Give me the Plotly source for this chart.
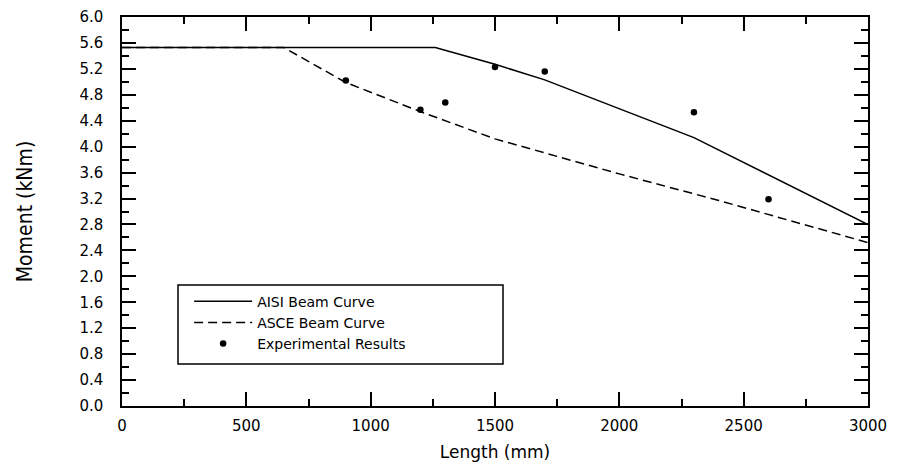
import plotly.graph_objects as go

# AISI beam curve (solid)
aisi_len = [0, 1260, 1500, 1700, 2300, 2600, 3000]
aisi_mom = [5.53, 5.53, 5.27, 5.03, 4.14, 3.57, 2.80]

# ASCE beam curve (dashed)
asce_len = [0, 650, 900, 1200, 1500, 1800, 2000, 2400, 3000]
asce_mom = [5.53, 5.53, 4.99, 4.54, 4.12, 3.80, 3.58, 3.17, 2.52]

# Experimental results (dots)
exp_len = [900, 1200, 1300, 1500, 1700, 2300, 2600]
exp_mom = [5.02, 4.57, 4.68, 5.23, 5.16, 4.53, 3.19]

x_ticks = [0, 500, 1000, 1500, 2000, 2500, 3000]
y_ticks = [round(0.4 * i, 1) for i in range(16)]
y_tick_text = [f"{v:.1f}" for v in y_ticks]

tick_font = dict(family="DejaVu Sans, Verdana, sans-serif", size=15, color="black")

fig = go.Figure()
fig.add_trace(go.Scatter(x=aisi_len, y=aisi_mom, mode="lines", name="AISI Beam Curve",
                         line=dict(color="black", width=1.5)))
fig.add_trace(go.Scatter(x=asce_len, y=asce_mom, mode="lines", name="ASCE Beam Curve",
                         line=dict(color="black", width=1.5, dash="9px,5px")))
fig.add_trace(go.Scatter(x=exp_len, y=exp_mom, mode="markers", name="Experimental Results",
                         marker=dict(color="black", size=6.5)))

axis_common = dict(showline=True, linecolor="black", linewidth=1.5, mirror="allticks",
                   ticks="inside", ticklen=14, tickwidth=1.5, tickcolor="black",
                   showgrid=False, zeroline=False, tickfont=tick_font, automargin=False,
                   ticklabeloverflow="allow")

PLOT_H = 389  # plot area height in px (466 - 9 - 68)

# page has an 8px body margin, so the figure is drawn 8px smaller and offset
fig.update_layout(
    width=906, height=466,
    margin=dict(l=114, r=46, t=9, b=68, autoexpand=False),
    paper_bgcolor="white", plot_bgcolor="white",
    showlegend=True,
    legend=dict(x=0.09, y=120.4 / PLOT_H, xanchor="left", yanchor="top",
                bgcolor="rgba(0,0,0,0)", borderwidth=0,
                font=dict(family="DejaVu Sans, Verdana, sans-serif", size=14, color="black"),
                itemwidth=58, tracegroupgap=0),
    xaxis=dict(range=[0, 3000], tickvals=x_ticks, ticktext=[str(v) for v in x_ticks],
               minor=dict(ticks="inside", ticklen=7, tickwidth=1.5, tickcolor="black", dtick=250),
               ticklabelstandoff=5,
               title=dict(text="Length (mm)", standoff=12,
                          font=dict(family="DejaVu Sans, Verdana, sans-serif", size=17, color="black")),
               **axis_common),
    yaxis=dict(range=[0, 6], tickvals=y_ticks, ticktext=y_tick_text,
               minor=dict(ticks="inside", ticklen=7, tickwidth=1.5, tickcolor="black", dtick=0.2),
               ticklabelstandoff=14,
               title=dict(text="Moment (kNm)", standoff=41,
                          font=dict(family="Liberation Sans Narrow, DejaVu Sans Condensed, Arial Narrow, sans-serif",
                                    size=21, color="black")),
               **axis_common),
    shapes=[dict(type="rect", xref="paper", yref="paper",
                 x0=(178 - 122) / 746, x1=(503 - 122) / 746,
                 y0=42 / PLOT_H, y1=121 / PLOT_H,
                 line=dict(color="black", width=1.5), fillcolor="rgba(0,0,0,0)")],
)

fig.write_html("out.html")
